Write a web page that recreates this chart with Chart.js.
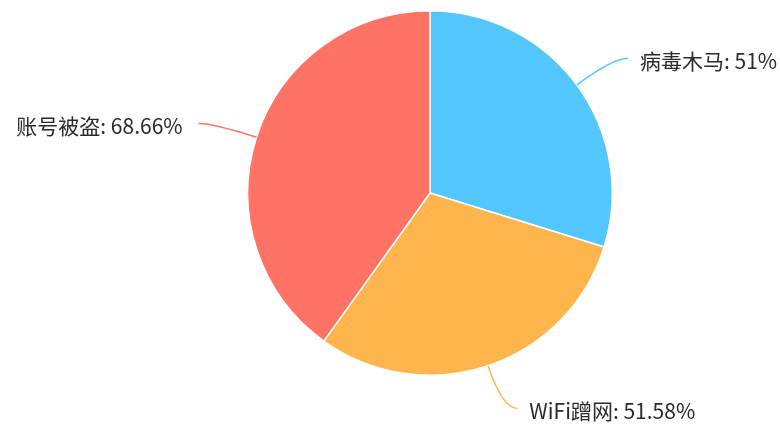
<!DOCTYPE html>
<html>
<head>
<meta charset="utf-8">
<script src="https://cdn.jsdelivr.net/npm/chart.js@4/dist/chart.umd.min.js"></script>
<style>
  html, body { margin: 0; padding: 0; background: #fff; }
  #wrap { width: 780px; height: 427px; }
</style>
</head>
<body>
<div id="wrap"><canvas id="chart" width="780" height="427"></canvas></div>
<script>
const categories = ['病毒木马', 'WiFi蹭网', '账号被盗'];
const values = [51, 51.58, 68.66];
const colors = ['#52c6fd', '#ffb54e', '#ff7367'];

// outside labels with curved leader lines
const leaderLabels = {
  id: 'leaderLabels',
  afterDatasetsDraw(chart) {
    const ctx = chart.ctx;
    const meta = chart.getDatasetMeta(0);
    ctx.save();
    ctx.font = '21px "Noto Sans CJK SC", "Noto Sans", sans-serif';
    ctx.textBaseline = 'middle';
    meta.data.forEach((arc, i) => {
      const mid = (arc.startAngle + arc.endAngle) / 2;
      const cos = Math.cos(mid), sin = Math.sin(mid);
      const r = arc.outerRadius;
      const ax = arc.x + cos * r, ay = arc.y + sin * r;
      const bx = arc.x + cos * (r + 45), by = arc.y + sin * (r + 45);
      const side = cos >= 0 ? 1 : -1;
      const cx = bx + side * 15, cy = by;
      ctx.strokeStyle = colors[i];
      ctx.lineWidth = 1.5;
      ctx.beginPath();
      ctx.moveTo(ax, ay);
      ctx.quadraticCurveTo(bx, by, cx, cy);
      ctx.stroke();
      ctx.fillStyle = '#2a2a2a';
      ctx.textAlign = side > 0 ? 'left' : 'right';
      ctx.fillText(`${categories[i]}: ${values[i]}%`, cx + side * (side > 0 ? 12 : 16), cy + 3);
    });
    ctx.restore();
  }
};

new Chart(document.getElementById('chart').getContext('2d'), {
  type: 'pie',
  data: {
    labels: categories,
    datasets: [{
      data: values,
      backgroundColor: colors,
      borderColor: '#fff',
      borderWidth: 1.5
    }]
  },
  options: {
    responsive: false,
    animation: false,
    layout: { padding: { top: 10, bottom: 51, left: 247, right: 167 } },
    plugins: {
      legend: { display: false },
      tooltip: { enabled: false }
    }
  },
  plugins: [leaderLabels]
});
</script>
</body>
</html>
